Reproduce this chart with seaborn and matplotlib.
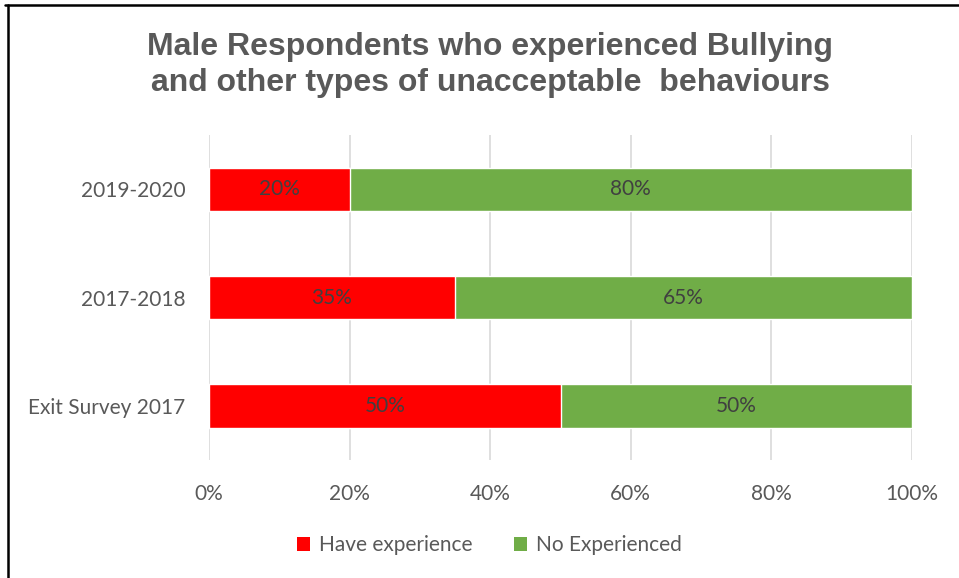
import matplotlib
matplotlib.use("Agg")
import matplotlib.pyplot as plt
import seaborn as sns
import pandas as pd
from matplotlib.lines import Line2D
from matplotlib.patches import Patch
from matplotlib.ticker import FuncFormatter

categories = ["2019-2020", "2017-2018", "Exit Survey 2017"]
have_experience = [20, 35, 50]
no_experienced = [80, 65, 50]
series_names = ["Have experience", "No Experienced"]
x_ticks = [0, 20, 40, 60, 80, 100]

red = "#FF0000"
green = "#70AD47"

sns.set_theme(style="white")
plt.rcParams['font.family'] = ['Lato', 'DejaVu Sans']

df = pd.DataFrame({
    "category": categories,
    "have": have_experience,
    "no": no_experienced,
})
df["total"] = df["have"] + df["no"]

fig = plt.figure(figsize=(9.59, 5.78), dpi=100)
ax = fig.add_axes([209/959, 1-460/578, (912-209)/959, (460-135)/578])

sns.barplot(data=df, y="category", x="total", order=categories, color=green,
            width=0.4, saturation=1, ax=ax, orient="h")
sns.barplot(data=df, y="category", x="have", order=categories, color=red,
            width=0.4, saturation=1, ax=ax, orient="h")

for i, (h, n) in enumerate(zip(have_experience, no_experienced)):
    ax.text(h/2, i, f"{h}%", ha="center", va="center", fontsize=15, color="#404040")
    ax.text(h + n/2, i, f"{n}%", ha="center", va="center", fontsize=15, color="#404040")

ax.set_xlim(0, 100)
ax.set_ylim(2.5, -0.5)
ax.set_xticks(x_ticks)
ax.xaxis.set_major_formatter(FuncFormatter(lambda v, p: f"{int(v)}%"))
ax.set_xlabel("")
ax.set_ylabel("")
ax.grid(axis="x", color="#D9D9D9", linewidth=1.2)
ax.grid(axis="y", visible=False)
ax.set_axisbelow(True)
for s in ax.spines.values():
    s.set_visible(False)
ax.tick_params(axis="both", length=0, labelsize=15, labelcolor="#595959")
ax.tick_params(axis="x", pad=17)
ax.tick_params(axis="y", pad=17)

fig.text(0.511, 1-65/578, "Male Respondents who experienced Bullying\nand other types of unacceptable  behaviours",
         ha="center", va="center", fontsize=23, fontweight="bold", color="#595959",
         family="Liberation Sans", linespacing=1.22)

handles = [Patch(facecolor=red, edgecolor="none"), Patch(facecolor=green, edgecolor="none")]
fig.legend(handles, series_names, loc="center", bbox_to_anchor=(0.51, 1-545/578), ncol=2,
           frameon=False, fontsize=15, labelcolor="#595959", handlelength=0.65,
           handleheight=0.65, handletextpad=0.4, columnspacing=2.0)

fig.add_artist(Line2D([5/959, 1], [1-5/578, 1-5/578], color="black", linewidth=1.8, transform=fig.transFigure))
fig.add_artist(Line2D([8/959, 8/959], [0, 1-5/578], color="black", linewidth=1.8, transform=fig.transFigure))

fig.savefig("out.png", dpi=100)
